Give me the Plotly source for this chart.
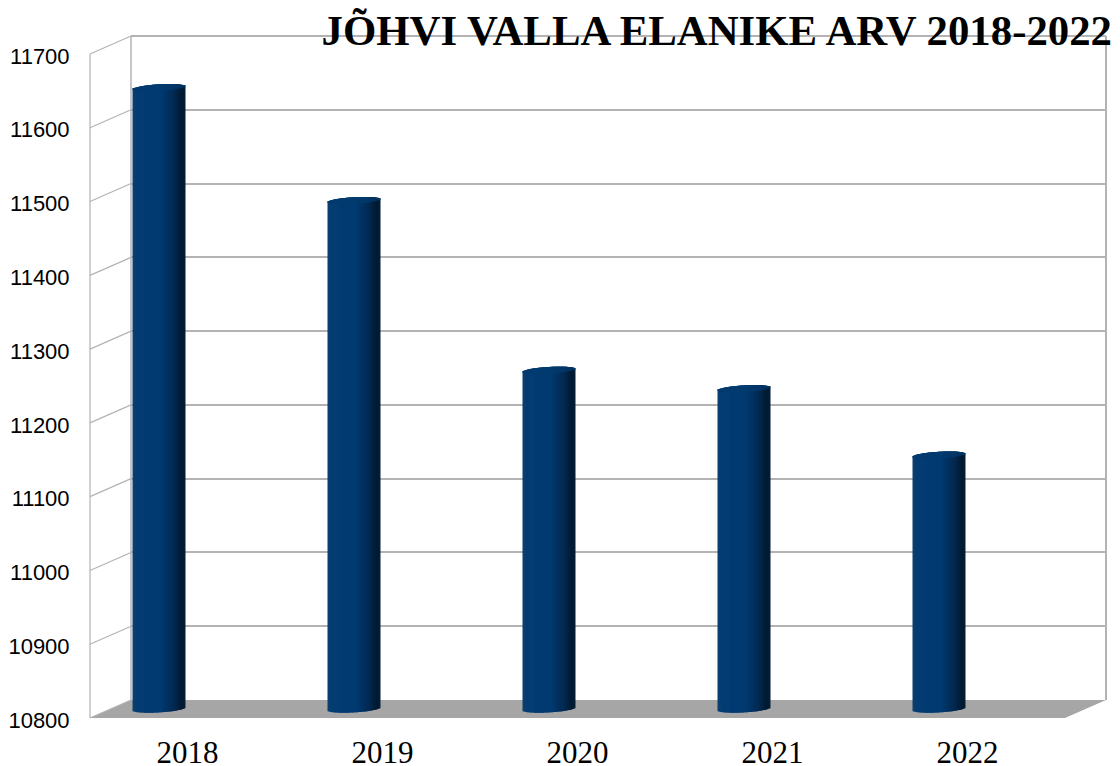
import plotly.graph_objects as go
import math

years = ["2018", "2019", "2020", "2021", "2022"]
residents = [11642, 11489, 11259, 11234, 11144]
value_ticks = [10800, 10900, 11000, 11100, 11200, 11300, 11400, 11500, 11600, 11700]
title_text = "JÕHVI VALLA ELANIKE ARV 2018-2022"

# The default page puts the figure 8 px in from the window's corner
PAGE = 8
W, H = 1120 - PAGE, 766 - PAGE
GRID = "#b3b3b3"
FLOOR = "#a6a6a6"
vmin, vmax = 10800, 11700

def fx(p): return (p - PAGE) / W
def fy(p): return 1 - (p - PAGE) / H

# Pixel frame of the pseudo-3D box, in window pixels
FL, FR, FB, FT = 90, 1065, 718, 54      # front plane
BL, BR, BB, BT = 131, 1106, 700, 36     # back plane
ML, MR, MB, MT = 61.5, 1036.5, 709, 45  # plane that carries the cylinders
LABEL_DY = 2                            # tick labels sit a little under their ticks
px_per_unit = (MB - MT) / (vmax - vmin)
under = 10  # units below the axis minimum kept for the bulge of the cylinder foot
mb_ext = MB + under * px_per_unit

fig = go.Figure()

# Invisible carriers so that every axis pair is drawn
fig.add_trace(go.Scatter(x=years, y=[None] * 5, xaxis="x", yaxis="y", showlegend=False, hoverinfo="skip"))
fig.add_trace(go.Scatter(x=years, y=[None] * 5, xaxis="x2", yaxis="y2", showlegend=False, hoverinfo="skip"))

# Cylinders built from one pixel wide strips
BAR_PX = 52
cat_px = (MR - ML) / len(years)

def lerp(a, b, t): return a + (b - a) * t
stops = [(0.0, (12, 62, 110)), (0.12, (2, 60, 114)), (0.55, (0, 58, 112)),
         (0.78, (2, 42, 84)), (0.95, (1, 24, 48)), (1.0, (4, 30, 56))]
def shade(t):
    for (a, ca), (b, cb) in zip(stops, stops[1:]):
        if t <= b:
            f = (t - a) / (b - a)
            return "rgb(%d,%d,%d)" % tuple(round(lerp(x, y, f)) for x, y in zip(ca, cb))
    return "rgb(4,30,56)"

RY, TILT = 3.4, 1.5  # ellipse half height and tilt, pixels
for i in range(BAR_PX):
    t = (i + 0.5) / BAR_PX
    u = 2 * t - 1
    arc = math.sqrt(max(0, 1 - u * u)) * RY / px_per_unit
    tilt = u * TILT / px_per_unit
    off = (i - BAR_PX / 2) / cat_px
    wid = 1 / cat_px
    bases = [vmin - arc + tilt for _ in residents]
    fig.add_trace(go.Bar(
        x=years, y=[v + arc + tilt - b for v, b in zip(residents, bases)], base=bases,
        width=wid, offset=off, marker=dict(color=shade(t), line=dict(width=0)),
        xaxis="x3", yaxis="y3", showlegend=False, hoverinfo="skip", cliponaxis=False))
    # top face of the cylinder
    fig.add_trace(go.Bar(
        x=years, y=[2 * arc] * 5, base=[v - arc + tilt for v in residents],
        width=wid, offset=off, marker=dict(color="#023a6e", line=dict(width=0)),
        xaxis="x3", yaxis="y3", showlegend=False, hoverinfo="skip", cliponaxis=False))

# Box outline, as layout shapes below the traces
shapes = [
    dict(type="path", xref="paper", yref="paper", layer="below",
         path=f"M{fx(FL)},{fy(FB)} L{fx(FR)},{fy(FB)} L{fx(BR)},{fy(BB)} L{fx(BL)},{fy(BB)} Z",
         fillcolor=FLOOR, line=dict(width=0)),
]
def seg(x0, y0, x1, y1, w=1.5):
    return dict(type="line", xref="paper", yref="paper", layer="below",
                x0=fx(x0), y0=fy(y0), x1=fx(x1), y1=fy(y1), line=dict(color=GRID, width=w))
shapes.append(seg(FL, FT, FL, FB, 1.2))
shapes.append(seg(BL, BT, BL, BB, 1.5))
shapes.append(seg(BR, BT, BR, BB, 2))
shapes.append(seg(BL, BT, BR, BT, 2))
for v in value_ticks:
    f = (v - vmin) / (vmax - vmin)
    shapes.append(seg(FL, lerp(FB, FT, f), BL, lerp(BB, BT, f), 1.2))

axis_off = dict(visible=False)
fig.update_layout(
    template="none",
    width=W, height=H, autosize=False,
    margin=dict(l=0, r=0, t=0, b=0, autoexpand=False),
    paper_bgcolor="white", plot_bgcolor="rgba(0,0,0,0)",
    barmode="overlay", showlegend=False, shapes=shapes,
    title=dict(text=f"<b>{title_text}</b>", x=fx(1112), xanchor="right", xref="paper",
               y=fy(30), yanchor="middle", yref="paper", pad=dict(t=0, b=0, l=0, r=0),
               font=dict(family="Liberation Serif", size=42.8, color="black")),
    # front plane: labelled axes
    xaxis=dict(domain=[fx(FL), fx(FR)], anchor="y", type="category", range=[-0.5, 4.5],
               categoryorder="array", categoryarray=years, showgrid=False, showline=False, zeroline=False,
               automargin=False,
               ticks="outside", ticklen=5, tickcolor="rgba(0,0,0,0)", tickwidth=0.01,
               tickfont=dict(family="Liberation Serif", size=31, color="black")),
    yaxis=dict(domain=[fy(FB + LABEL_DY), fy(FT + LABEL_DY)], anchor="x", range=[vmin, vmax], tickvals=value_ticks,
               ticktext=[str(v) for v in value_ticks], showgrid=False, showline=False, zeroline=False,
               automargin=False,
               ticks="outside", ticklen=15, tickcolor="rgba(0,0,0,0)", tickwidth=0.01,
               tickfont=dict(family="Liberation Sans", size=22, color="black")),
    # back plane: gridlines
    xaxis2=dict(domain=[fx(BL), fx(BR)], anchor="y2", type="category", range=[-0.5, 4.5],
                automargin=False,
                showgrid=False, showticklabels=False, showline=False, zeroline=False, ticks=""),
    yaxis2=dict(domain=[fy(BB), fy(BT)], anchor="x2", range=[vmin, vmax], tickvals=value_ticks,
                automargin=False,
                showgrid=True, gridcolor=GRID, gridwidth=2, showticklabels=False,
                showline=False, zeroline=False, ticks=""),
    # cylinder plane
    xaxis3=dict(domain=[fx(ML), fx(MR)], anchor="y3", type="category", range=[-0.5, 4.5],
                categoryorder="array", categoryarray=years, **axis_off),
    yaxis3=dict(domain=[fy(mb_ext), fy(MT)], anchor="x3", range=[vmin - under, vmax], **axis_off),
)

fig.write_html("out.html")
